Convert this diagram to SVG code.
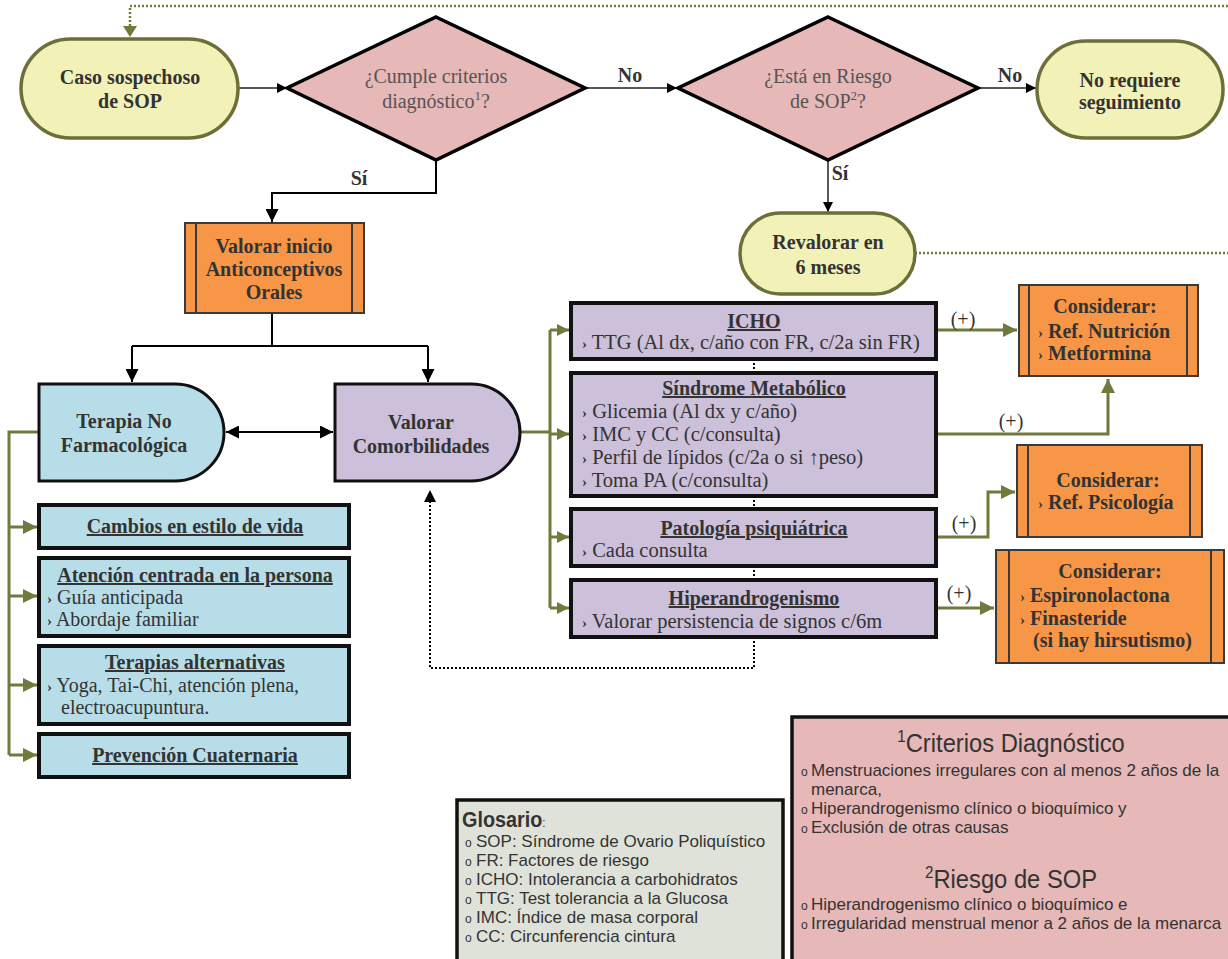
<svg xmlns="http://www.w3.org/2000/svg" width="1228" height="959" viewBox="0 0 1228 959">
<defs>
<marker id="ab" viewBox="0 0 10 10" refX="10" refY="5" markerWidth="10" markerHeight="10" markerUnits="userSpaceOnUse" orient="auto-start-reverse"><path d="M0,0 L10,5 L0,10 Z" fill="#000"/></marker>
<marker id="abl" viewBox="0 0 10 10" refX="10" refY="5" markerWidth="13" markerHeight="13" markerUnits="userSpaceOnUse" orient="auto-start-reverse"><path d="M0,0 L10,5 L0,10 Z" fill="#000"/></marker>
<marker id="ao" viewBox="0 0 10 10" refX="10" refY="5" markerWidth="14" markerHeight="14" markerUnits="userSpaceOnUse" orient="auto"><path d="M0,0 L10,5 L0,10 Z" fill="#717a3c"/></marker>
<marker id="aos" viewBox="0 0 10 10" refX="10" refY="5" markerWidth="12" markerHeight="12" markerUnits="userSpaceOnUse" orient="auto"><path d="M0,0 L10,5 L0,10 Z" fill="#717a3c"/></marker>
</defs>
<style>
.t{font-family:"Liberation Serif","Times New Roman",serif;font-size:20px;fill:#333}
.tb{font-size:20.5px}
.b{font-weight:bold}
.c{text-anchor:middle}
.u{text-decoration:underline}
.g{fill:#555}
.s{font-family:"Liberation Sans",Arial,sans-serif;fill:#333}
.yel{fill:#f2f2b8;stroke:#6c6f37;stroke-width:3.5}
.dia{fill:#e6b8b7;stroke:#000;stroke-width:3.5}
.org{fill:#f79646;stroke:#3a3a3a;stroke-width:2}
.blu{fill:#b7dee8;stroke:#111;stroke-width:4}
.blu2{fill:#b7dee8;stroke:#111;stroke-width:3}
.pur{fill:#ccc0da;stroke:#111;stroke-width:4}
.pur2{fill:#ccc0da;stroke:#111;stroke-width:3}
.k{fill:none;stroke:#000;stroke-width:2}
.k1{fill:none;stroke:#222;stroke-width:1.5}
.o{fill:none;stroke:#717a3c;stroke-width:3}
.od{fill:none;stroke:#717a3c;stroke-width:2.5;stroke-dasharray:2 2}
.kd{fill:none;stroke:#000;stroke-width:2;stroke-dasharray:2 2}
</style>

<g id="connectors">
<path class="od" d="M1228,6 H130 V28" />
<path d="M123,26 L137,26 L130,37 Z" fill="#717a3c"/>
<path class="od" d="M915,253 H1228"/>
<path class="k1" d="M238,88 H287" marker-end="url(#ab)"/>
<path class="k1" d="M585,88 H677" marker-end="url(#ab)"/>
<text class="t b c" x="630" y="82">No</text>
<path class="k1" d="M978,88 H1036" marker-end="url(#ab)"/>
<text class="t b c" x="1010" y="82">No</text>
<path class="k" d="M436,160 V193 H272 V222" marker-end="url(#abl)"/>
<text class="t b c" x="359" y="185">Sí</text>
<path class="k1" d="M828,160 V212" marker-end="url(#ab)"/>
<text class="t b c" x="840" y="180">Sí</text>
<path class="k" d="M272,313 V346"/>
<path class="k" d="M132,346 H428"/>
<path class="k" d="M132,346 V382" marker-end="url(#abl)"/>
<path class="k" d="M428,346 V382" marker-end="url(#abl)"/>
<path class="k" d="M226,432 H333" marker-start="url(#abl)" marker-end="url(#abl)"/>
<path class="o" d="M39,432 H9 V755"/>
<path class="o" d="M9,527 H37" marker-end="url(#ao)"/>
<path class="o" d="M9,596 H37" marker-end="url(#ao)"/>
<path class="o" d="M9,685 H37" marker-end="url(#ao)"/>
<path class="o" d="M9,755 H37" marker-end="url(#ao)"/>
<path class="o" d="M520,432 H550"/>
<path class="o" d="M550,330 V608"/>
<path class="o" d="M550,330 H569" marker-end="url(#aos)"/>
<path class="o" d="M550,434 H569" marker-end="url(#aos)"/>
<path class="o" d="M550,537 H569" marker-end="url(#aos)"/>
<path class="o" d="M550,608 H569" marker-end="url(#aos)"/>
<path class="kd" d="M754,359 V373 M754,496 V509 M754,566 V580"/>
<path class="kd" d="M754,637 V668 H430 V496"/>
<path d="M424,502 L436,502 L430,490 Z" fill="#000"/>
<path class="o" d="M936,330 H1017" marker-end="url(#ao)"/>
<text class="t c" x="963" y="326">(+)</text>
<path class="o" d="M936,434 H1108 V379" marker-end="url(#ao)"/>
<text class="t c" x="1011" y="428">(+)</text>
<path class="o" d="M936,537 H988 V492 H1015" marker-end="url(#ao)"/>
<text class="t c" x="964" y="530">(+)</text>
<path class="o" d="M936,608 H994" marker-end="url(#ao)"/>
<text class="t c" x="959" y="600">(+)</text>
</g>

<g id="caso">
<rect class="yel" x="21" y="39" width="217" height="99" rx="49.5"/>
<text class="t b c" x="130" y="84">Caso sospechoso</text>
<text class="t b c" x="130" y="108">de SOP</text>
</g>

<g id="criterios-q">
<polygon class="dia" points="436,17 585,88 436,160 287,88"/>
<text class="t c g" x="436" y="83">¿Cumple criterios</text>
<text class="t c g" x="436" y="108">diagnóstico<tspan dy="-8" font-size="13">1</tspan><tspan dy="8">?</tspan></text>
</g>

<g id="riesgo-q">
<polygon class="dia" points="828,17 978,88 828,160 678,88"/>
<text class="t c g" x="828" y="83">¿Está en Riesgo</text>
<text class="t c g" x="828" y="108">de SOP<tspan dy="-8" font-size="13">2</tspan><tspan dy="8">?</tspan></text>
</g>

<g id="no-requiere">
<rect class="yel" x="1037" y="41" width="186" height="97" rx="48.5"/>
<text class="t b c" x="1130" y="87">No requiere</text>
<text class="t b c" x="1130" y="109">seguimiento</text>
</g>

<g id="revalorar">
<rect class="yel" x="740" y="213" width="175" height="81" rx="40.5"/>
<text class="t b c" x="828" y="249">Revalorar en</text>
<text class="t b c" x="828" y="274">6 meses</text>
</g>

<g id="anticonceptivos">
<rect class="org" x="185" y="223" width="179" height="90"/>
<path class="org" d="M196,223 V313 M352,223 V313"/>
<text class="t b c" x="274" y="253">Valorar inicio</text>
<text class="t b c" x="274" y="276">Anticonceptivos</text>
<text class="t b c" x="274" y="299">Orales</text>
</g>

<g id="terapia-no-farm">
<path class="blu2" d="M39,384 H175 A49,48.5 0 0 1 175,481 H39 Z"/>
<text class="t b c" x="124" y="428">Terapia No</text>
<text class="t b c" x="124" y="452">Farmacológica</text>
</g>

<g id="valorar-comorb">
<path class="pur2" d="M335,384 H471 A49,48.5 0 0 1 471,481 H335 Z"/>
<text class="t b c" x="421" y="429">Valorar</text>
<text class="t b c" x="421" y="453">Comorbilidades</text>
</g>

<g id="cambios">
<rect class="blu" x="39" y="505" width="310" height="43"/>
<text class="t b c u" x="195" y="533">Cambios en estilo de vida</text>
</g>

<g id="atencion">
<rect class="blu" x="39" y="558" width="310" height="78"/>
<text class="t b c u" x="195" y="582">Atención centrada en la persona</text>
<text class="t" x="47" y="604"><tspan font-size="15" font-weight="bold">›</tspan> Guía anticipada</text>
<text class="t" x="47" y="626"><tspan font-size="15" font-weight="bold">›</tspan> Abordaje familiar</text>
</g>

<g id="terapias-alt">
<rect class="blu" x="39" y="646" width="310" height="78"/>
<text class="t b c u" x="195" y="669">Terapias alternativas</text>
<text class="t" x="47" y="692"><tspan font-size="15" font-weight="bold">›</tspan> Yoga, Tai-Chi, atención plena,</text>
<text class="t" x="61" y="714">electroacupuntura.</text>
</g>

<g id="prevencion">
<rect class="blu" x="39" y="734" width="310" height="43"/>
<text class="t b c u" x="195" y="762">Prevención Cuaternaria</text>
</g>

<g id="icho">
<rect class="pur" x="571" y="303" width="365" height="56"/>
<text class="t b c u" x="754" y="328">ICHO</text>
<text class="t tb" x="582" y="349"><tspan font-size="15" font-weight="bold">›</tspan> TTG (Al dx, c/año con FR, c/2a sin FR)</text>
</g>

<g id="sindrome">
<rect class="pur" x="571" y="373" width="365" height="123"/>
<text class="t b c u" x="754" y="395">Síndrome Metabólico</text>
<text class="t tb" x="582" y="418"><tspan font-size="15" font-weight="bold">›</tspan> Glicemia (Al dx y c/año)</text>
<text class="t tb" x="582" y="441"><tspan font-size="15" font-weight="bold">›</tspan> IMC y CC (c/consulta)</text>
<text class="t tb" x="582" y="464"><tspan font-size="15" font-weight="bold">›</tspan> Perfil de lípidos (c/2a o si ↑peso)</text>
<text class="t tb" x="582" y="487"><tspan font-size="15" font-weight="bold">›</tspan> Toma PA (c/consulta)</text>
</g>

<g id="patologia">
<rect class="pur" x="571" y="509" width="365" height="57"/>
<text class="t b c u" x="754" y="535">Patología psiquiátrica</text>
<text class="t tb" x="582" y="557"><tspan font-size="15" font-weight="bold">›</tspan> Cada consulta</text>
</g>

<g id="hiperandrogenismo">
<rect class="pur" x="571" y="580" width="365" height="57"/>
<text class="t b c u" x="754" y="605">Hiperandrogenismo</text>
<text class="t tb" x="582" y="628"><tspan font-size="15" font-weight="bold">›</tspan> Valorar persistencia de signos c/6m</text>
</g>

<g id="considerar-nutricion">
<rect class="org" x="1019" y="285" width="179" height="91"/>
<path class="org" d="M1029,285 V376 M1187,285 V376"/>
<text class="t b c" x="1105" y="313">Considerar:</text>
<text class="t b" x="1038" y="338"><tspan font-size="15">›</tspan> Ref. Nutrición</text>
<text class="t b" x="1038" y="360"><tspan font-size="15">›</tspan> Metformina</text>
</g>

<g id="considerar-psicologia">
<rect class="org" x="1017" y="445" width="185" height="92"/>
<path class="org" d="M1028,445 V537 M1190,445 V537"/>
<text class="t b c" x="1108" y="487">Considerar:</text>
<text class="t b" x="1038" y="509"><tspan font-size="15">›</tspan> Ref. Psicología</text>
</g>

<g id="considerar-hiper">
<rect class="org" x="996" y="550" width="228" height="113"/>
<path class="org" d="M1009,550 V663 M1211,550 V663"/>
<text class="t b c" x="1110" y="578">Considerar:</text>
<text class="t b" x="1020" y="602"><tspan font-size="15">›</tspan> Espironolactona</text>
<text class="t b" x="1020" y="625"><tspan font-size="15">›</tspan> Finasteride</text>
<text class="t b" x="1033" y="647">(si hay hirsutismo)</text>
</g>

<g id="glosario">
<rect x="457" y="800" width="326" height="175" fill="#dfe2d8" stroke="#111" stroke-width="3.5"/>
<text class="s" transform="translate(462 0) scale(0.9 1)" x="0" y="827" font-size="22" font-weight="bold">Glosario<tspan font-size="13" font-weight="normal">:</tspan></text>
<g class="s" font-size="12">
<text x="465" y="847">o</text>
<text x="465" y="866">o</text>
<text x="465" y="885">o</text>
<text x="465" y="904">o</text>
<text x="465" y="923">o</text>
<text x="465" y="942">o</text>
</g>
<g class="s" font-size="17">
<text x="476" y="847">SOP: Síndrome de Ovario Poliquístico</text>
<text x="476" y="866">FR: Factores de riesgo</text>
<text x="476" y="885">ICHO: Intolerancia a carbohidratos</text>
<text x="476" y="904">TTG: Test tolerancia a la Glucosa</text>
<text x="476" y="923">IMC: Índice de masa corporal</text>
<text x="476" y="942">CC: Circunferencia cintura</text>
</g>
</g>

<g id="criterios">
<rect x="792" y="717" width="450" height="260" fill="#e6b8b7" stroke="#111" stroke-width="3.5"/>
<text class="s c" transform="translate(1011 0) scale(0.95 1)" x="0" y="752" font-size="25"><tspan font-size="16" dy="-10">1</tspan><tspan dy="10">Criterios Diagnóstico</tspan></text>
<g class="s" font-size="12">
<text x="801" y="776">o</text>
<text x="801" y="814">o</text>
<text x="801" y="833">o</text>
<text x="801" y="910">o</text>
<text x="801" y="929">o</text>
</g>
<g class="s" font-size="17">
<text x="811" y="776">Menstruaciones irregulares con al menos 2 años de la</text>
<text x="811" y="795">menarca,</text>
<text x="811" y="814">Hiperandrogenismo clínico o bioquímico y</text>
<text x="811" y="833">Exclusión de otras causas</text>
<text x="811" y="910">Hiperandrogenismo clínico o bioquímico e</text>
<text x="811" y="929">Irregularidad menstrual menor a 2 años de la menarca</text>
</g>
<text class="s c" transform="translate(1011 0) scale(0.95 1)" x="0" y="888" font-size="25"><tspan font-size="16" dy="-10">2</tspan><tspan dy="10">Riesgo de SOP</tspan></text>
</g>
</svg>
